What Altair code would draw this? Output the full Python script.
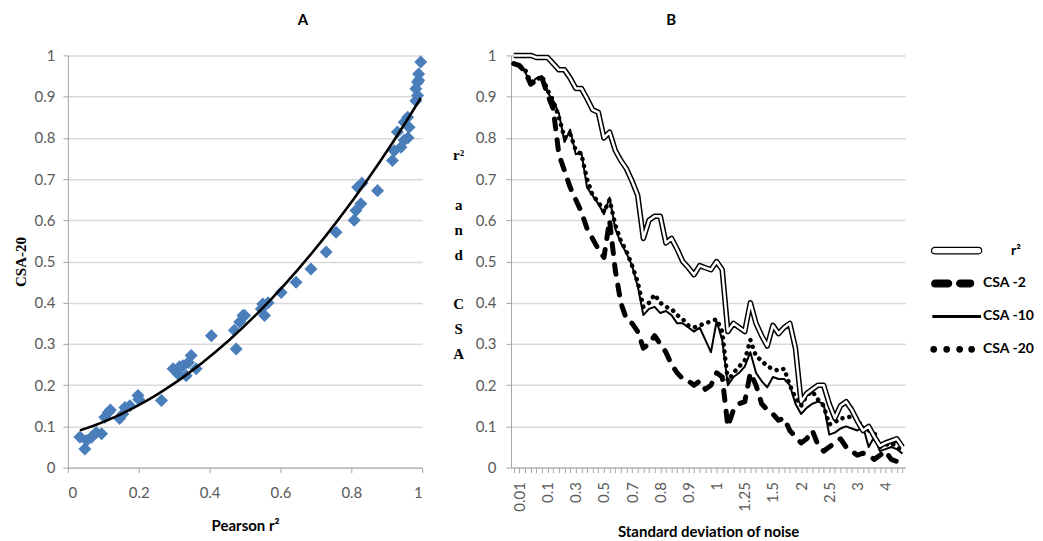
import altair as alt
import pandas as pd

# ---------------- Panel A data ----------------
pearson_r2 = [0.034, 0.048, 0.053, 0.067, 0.080, 0.095, 0.104, 0.114, 0.120, 0.146,
              0.155, 0.161, 0.175, 0.198, 0.200, 0.264, 0.297, 0.310, 0.315, 0.325,
              0.334, 0.340, 0.348, 0.362, 0.405, 0.470, 0.475, 0.485, 0.494, 0.499,
              0.546, 0.550, 0.555, 0.565, 0.602, 0.644, 0.686, 0.729, 0.757, 0.808,
              0.813, 0.818, 0.827, 0.830, 0.874, 0.916, 0.921, 0.930, 0.940, 0.949,
              0.949, 0.959, 0.963, 0.960, 0.982, 0.987, 0.982, 0.987, 0.990, 0.996,
              0.990]
csa_20 = [0.074, 0.045, 0.066, 0.074, 0.085, 0.082, 0.122, 0.134, 0.140, 0.119,
          0.130, 0.146, 0.150, 0.175, 0.165, 0.163, 0.240, 0.228, 0.245, 0.247,
          0.223, 0.255, 0.272, 0.240, 0.320, 0.333, 0.288, 0.353, 0.369, 0.369,
          0.385, 0.397, 0.369, 0.400, 0.425, 0.450, 0.482, 0.523, 0.571, 0.600,
          0.624, 0.680, 0.640, 0.690, 0.672, 0.745, 0.769, 0.814, 0.777, 0.794,
          0.838, 0.850, 0.826, 0.800, 0.890, 0.903, 0.919, 0.935, 0.955, 0.984,
          0.940]

# ---------------- Panel B data ----------------
noise_labels = ["0.01", "0.1", "0.3", "0.5", "0.7", "0.8", "0.9", "1",
                "1.25", "1.5", "2", "2.5", "3", "4"]
n_cat = 70
series_names = ["r²", "CSA -2", "CSA -10", "CSA -20"]

r2_vals = [1.00, 1.00, 1.00, 1.00, 0.995, 0.995, 0.995, 0.98, 0.965, 0.965,
           0.945, 0.92, 0.92, 0.895, 0.868, 0.862, 0.80, 0.814, 0.77, 0.745,
           0.725, 0.695, 0.66, 0.556, 0.60, 0.61, 0.61, 0.545, 0.556, 0.53,
           0.50, 0.485, 0.468, 0.49, 0.485, 0.48, 0.50, 0.48, 0.33, 0.35,
           0.34, 0.33, 0.40, 0.35, 0.32, 0.295, 0.345, 0.325, 0.34, 0.35,
           0.29, 0.16, 0.18, 0.19, 0.20, 0.20, 0.155, 0.12, 0.15, 0.16,
           0.14, 0.113, 0.09, 0.10, 0.075, 0.053, 0.06, 0.065, 0.07, 0.05]
csa2_vals = [0.98, 0.975, 0.96, 0.93, 0.94, 0.945, 0.905, 0.87, 0.76, 0.72,
             0.68, 0.65, 0.62, 0.58, 0.555, 0.53, 0.51, 0.60, 0.48, 0.40,
             0.36, 0.35, 0.33, 0.29, 0.30, 0.32, 0.30, 0.28, 0.25, 0.23,
             0.215, 0.21, 0.20, 0.21, 0.19, 0.20, 0.23, 0.22, 0.10, 0.14,
             0.155, 0.16, 0.23, 0.20, 0.155, 0.14, 0.13, 0.115, 0.12, 0.09,
             0.075, 0.06, 0.07, 0.09, 0.055, 0.04, 0.05, 0.06, 0.07, 0.05,
             0.04, 0.03, 0.035, 0.03, 0.02, 0.03, 0.04, 0.02, 0.015, 0.0]
csa10_vals = [0.98, 0.98, 0.96, 0.93, 0.945, 0.95, 0.91, 0.89, 0.86, 0.79,
              0.82, 0.76, 0.765, 0.68, 0.66, 0.64, 0.615, 0.655, 0.58, 0.545,
              0.52, 0.49, 0.44, 0.37, 0.385, 0.39, 0.375, 0.38, 0.37, 0.35,
              0.35, 0.34, 0.33, 0.34, 0.31, 0.28, 0.355, 0.31, 0.20, 0.22,
              0.23, 0.245, 0.28, 0.23, 0.21, 0.195, 0.22, 0.215, 0.215, 0.20,
              0.155, 0.13, 0.145, 0.155, 0.16, 0.155, 0.08, 0.085, 0.095, 0.10,
              0.095, 0.09, 0.10, 0.05, 0.075, 0.04, 0.045, 0.05, 0.045, 0.034]
csa20_vals = [0.98, 0.975, 0.965, 0.935, 0.94, 0.95, 0.915, 0.89, 0.85, 0.80,
              0.81, 0.77, 0.76, 0.70, 0.66, 0.645, 0.62, 0.65, 0.59, 0.55,
              0.525, 0.49, 0.45, 0.39, 0.40, 0.42, 0.40, 0.39, 0.385, 0.37,
              0.36, 0.345, 0.34, 0.345, 0.35, 0.355, 0.36, 0.33, 0.21, 0.23,
              0.245, 0.26, 0.31, 0.27, 0.26, 0.245, 0.24, 0.235, 0.24, 0.20,
              0.17, 0.15, 0.175, 0.185, 0.165, 0.15, 0.105, 0.11, 0.12, 0.12,
              0.125, 0.12, 0.09, 0.09, 0.085, 0.05, 0.055, 0.06, 0.05, 0.04]

# ---------------- tables ----------------
dfA = pd.DataFrame({"x": pearson_r2, "y": csa_20})

rows = []
for name, vals in zip(series_names, [r2_vals, csa2_vals, csa10_vals, csa20_vals]):
    for i, v in enumerate(vals):
        rows.append({"idx": i, "value": v, "series": name})
dfB = pd.DataFrame(rows)

label_arr = [""] * n_cat
for k, lab in enumerate(noise_labels):
    label_arr[1 + 5 * k] = lab
label_expr = "[" + ",".join("'" + s + "'" for s in label_arr) + "][datum.value]"

SANS = "Lato"
SERIF = "Liberation Serif"
GRAY = "#595959"
AX = "#a6a6a6"
GRID = "#d9d9d9"
yticks = [round(i * 0.1, 1) for i in range(11)]
ZW = "\u200b"
r2_label = ZW + "\u2003\u2003\u2002r²"

# ---------------- Panel A ----------------
xA = alt.X("x:Q", scale=alt.Scale(domain=[0, 1], nice=False),
           axis=alt.Axis(values=[0, 0.2, 0.4, 0.6, 0.8, 1], format="~g", grid=False,
                         title="Pearson   r²", labelPadding=13, titlePadding=18,
                         titleFont=SANS, titleFontSize=15))
yA = alt.Y("y:Q", scale=alt.Scale(domain=[0, 1], nice=False),
           axis=alt.Axis(values=yticks, format=".1~f", grid=True,
                         title="CSA-20", titleFont=SERIF, titleFontSize=15,
                         labelPadding=8, titlePadding=6))

pts = alt.Chart(dfA).mark_point(shape="diamond", filled=True, size=170,
                                color="#4A7EBB", opacity=1).encode(x=xA, y=yA)
trend = alt.Chart(dfA).transform_regression(
    "x", "y", method="poly", order=2
).mark_line(color="black", strokeWidth=2.6).encode(x="x:Q", y="y:Q")

panelA = alt.layer(pts, trend).properties(
    width=355, height=413,
    title=alt.TitleParams("A", font=SANS, fontSize=15, fontWeight="bold",
                          anchor="middle", frame="group", dx=58, offset=20)
)

# ---------------- Panel B ----------------
xB = alt.X("idx:Q", scale=alt.Scale(domain=[-0.5, n_cat - 0.5], nice=False, zero=False),
           axis=alt.Axis(values=list(range(n_cat)), labelExpr=label_expr, labelAngle=270,
                         labelOverlap=False, labelFlush=False, labelBound=False, grid=False,
                         title="Standard deviation of noise", titleFont=SANS, titleFontSize=15,
                         labelPadding=9, titlePadding=13))
yB = alt.Y("value:Q", scale=alt.Scale(domain=[0, 1], nice=False),
           axis=alt.Axis(values=yticks, format=".1~f", grid=True,
                         title=["r²", ZW, "a", "n", "d", ZW, "C", "S", "A"],
                         titleFont=SERIF, titleFontSize=15, titleAngle=0,
                         titleLineHeight=25, titleAlign="center", titleBaseline="middle",
                         titleX=-53, titleY=99, labelPadding=10))

baseB = alt.Chart(dfB)


def series_line(name, **kw):
    return baseB.transform_filter(alt.datum.series == name).mark_line(
        strokeJoin="round", **kw).encode(x=xB, y=yB)


l_csa2 = series_line(series_names[1], color="black", strokeWidth=5, strokeDash=[10, 11], strokeCap="round")
l_csa20 = series_line(series_names[3], color="black", strokeWidth=4.5, strokeDash=[0.1, 7], strokeCap="round")
l_csa10 = series_line(series_names[2], color="black", strokeWidth=2)
l_r2_out = series_line(series_names[0], color="black", strokeWidth=5.5)
l_r2_in = series_line(series_names[0], color="white", strokeWidth=2.5)

# legend symbols (custom paths in unit coordinates)
p_r2 = ("M-1.75,-0.26 L1.75,-0.26 A0.26,0.26 0 0 1 1.75,0.26 L-1.75,0.26 "
        "A0.26,0.26 0 0 1 -1.75,-0.26 Z")
p_csa2 = ("M-1.73,-0.27 L-0.67,-0.27 A0.27,0.27 0 0 1 -0.67,0.27 L-1.73,0.27 "
          "A0.27,0.27 0 0 1 -1.73,-0.27 Z M0.27,-0.27 L1.09,-0.27 A0.27,0.27 0 0 1 1.09,0.27 "
          "L0.27,0.27 A0.27,0.27 0 0 1 0.27,-0.27 Z")
p_csa10 = "M-1.9,-0.07 L1.9,-0.07 L1.9,0.07 L-1.9,0.07 Z"
dots = []
for cx in [-1.84, -0.8, 0.24, 1.2]:
    dots.append(f"M{cx - 0.22:.2f},0 A0.22,0.22 0 1 0 {cx + 0.22:.2f},0 "
                f"A0.22,0.22 0 1 0 {cx - 0.22:.2f},0 Z")
p_csa20 = " ".join(dots)

leg = alt.Legend(title=None, orient="none", legendX=877, legendY=182,
                 symbolSize=625, symbolStrokeColor="black", symbolStrokeWidth=1.2,
                 symbolOpacity=1, labelFont=SANS, labelFontSize=14, labelFontWeight="bold",
                 labelColor="black", labelOffset=13, rowPadding=12, padding=0,
                 labelExpr="datum.label == 'r²' ? '" + r2_label + "' : datum.label")

leg_pts = baseB.mark_point(filled=True, opacity=0, strokeWidth=1.2).encode(
    x=xB, y=yB,
    shape=alt.Shape("series:N", scale=alt.Scale(domain=series_names,
                                                range=[p_r2, p_csa2, p_csa10, p_csa20]),
                    legend=leg),
    fill=alt.Fill("series:N", scale=alt.Scale(domain=series_names,
                                              range=["white", "black", "black", "black"]),
                  legend=leg),
    stroke=alt.Stroke("series:N", scale=alt.Scale(domain=series_names,
                                                  range=["black", "black", "black", "black"]),
                      legend=leg),
)

panelB = alt.layer(l_csa2, l_csa20, l_csa10, l_r2_out, l_r2_in, leg_pts).properties(
    width=395, height=413,
    title=alt.TitleParams("B", font=SANS, fontSize=15, fontWeight="bold",
                          anchor="middle", frame="group", dx=-37, offset=20)
)

chart = alt.hconcat(panelA, panelB, spacing=24).properties(
    padding={"left": 5, "top": 5, "right": 0, "bottom": 0}
).configure_axis(
    labelFont=SANS, labelFontSize=15, labelColor=GRAY,
    domainColor=AX, tickColor=AX, tickSize=5, gridColor=GRID, gridWidth=1.5,
    titleFontWeight="bold", titleColor="black"
).configure_view(stroke=None)

chart.save("out.html", embed_options={"renderer": "svg", "actions": False})
